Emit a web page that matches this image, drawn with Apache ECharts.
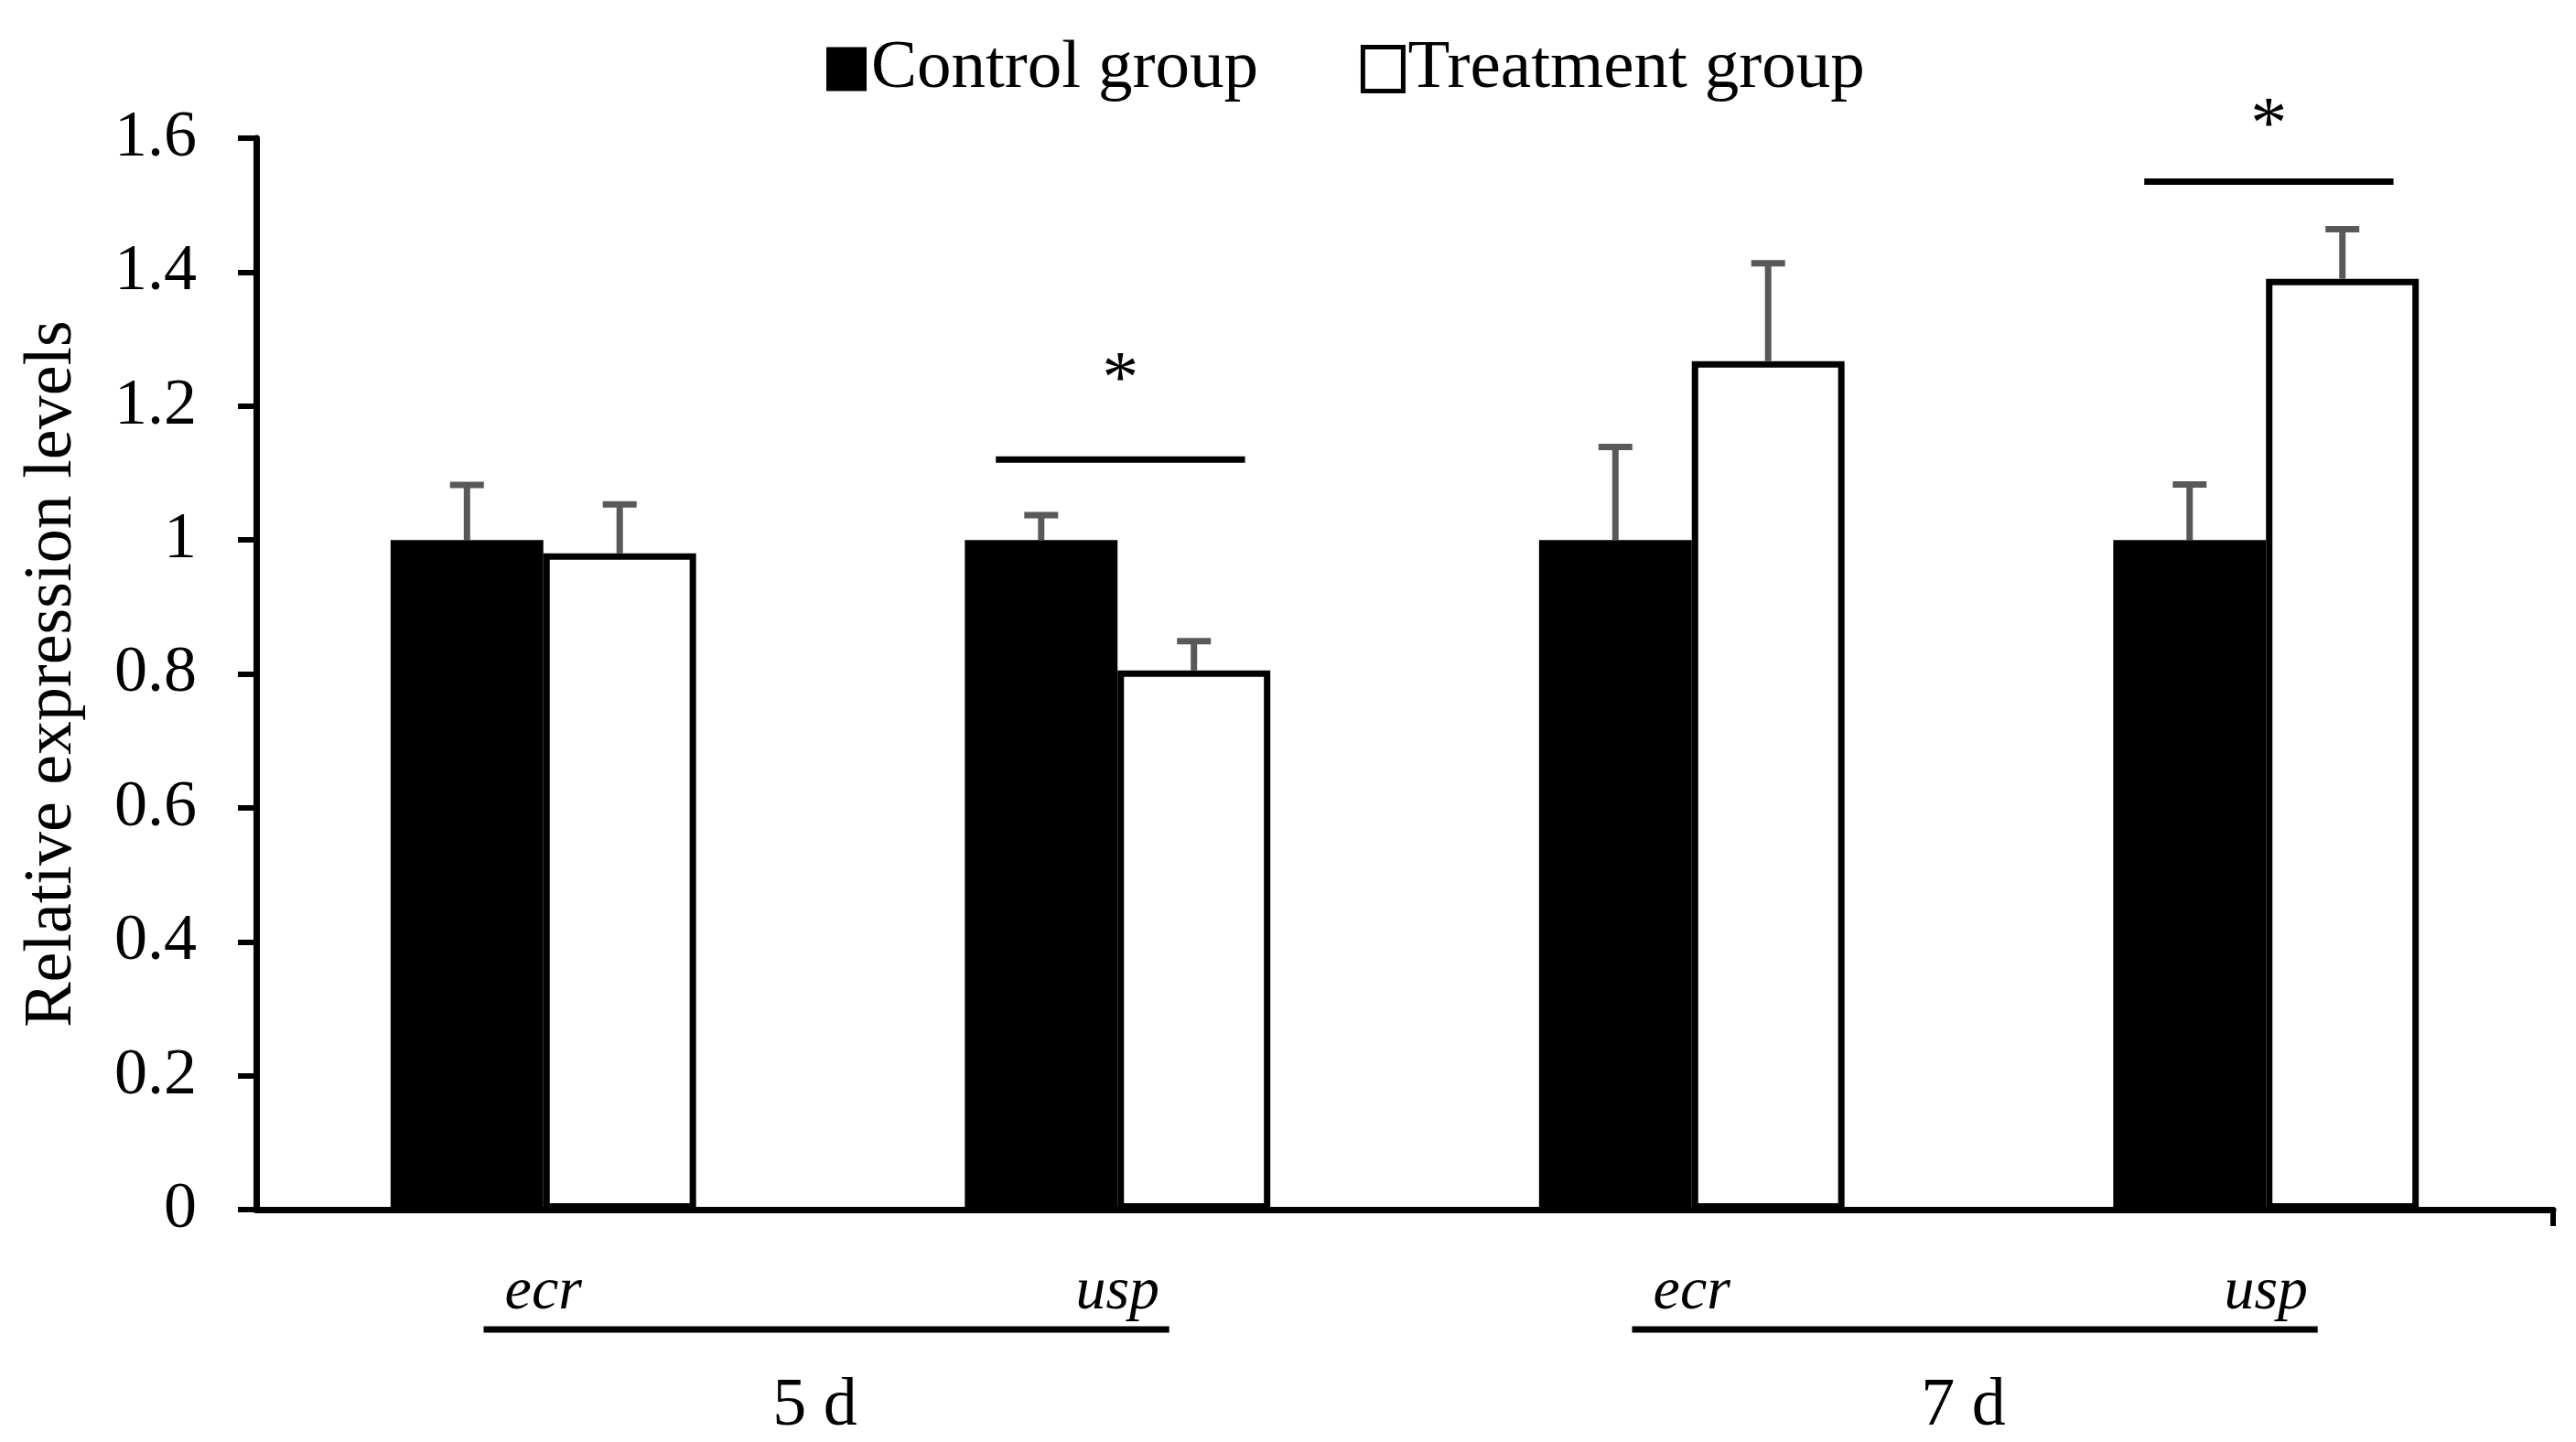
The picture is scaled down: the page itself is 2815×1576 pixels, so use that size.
<!DOCTYPE html>
<html>
<head>
<meta charset="utf-8">
<script src="https://cdn.jsdelivr.net/npm/echarts@6/dist/echarts.min.js"></script>
<style>
  html, body { margin: 0; padding: 0; background: #fff; }
  #chart { width: 2815px; height: 1576px; }
</style>
</head>
<body>
<div id="chart"></div>
<script>
// ---- data ----
const categories = ['ecr', 'usp', 'ecr', 'usp'];
const groups = ['5 d', '7 d'];
const groupStart = [0, 2];
const groupEnd = [1, 3];
const seriesNames = ['Control group', 'Treatment group'];
const controlValues = [1, 1, 1, 1];
const controlErrors = [0.082, 0.037, 0.139, 0.083];
const treatmentValues = [0.98, 0.805, 1.267, 1.39];
const treatmentErrors = [0.073, 0.044, 0.146, 0.074];
const sigCategory = [1, 3];
const sigLineLevel = [1.12, 1.535];
const sigStarLevel = [1.25, 1.63];
const sigMark = ['*', '*'];
const yMin = 0, yMax = 1.6, yStep = 0.2;

// ---- style ----
const FONT = "'Liberation Serif', 'Times New Roman', serif";
const BAR_FRAC = 0.266;
const ERR_COLOR = '#595959';

const chart = echarts.init(document.getElementById('chart'), null, { renderer: 'canvas' });

function errRender(sign) {
  return function (params, api) {
    const i = api.value(0), v = api.value(1), e = api.value(2);
    const band = api.size([1, 0])[0];
    const off = sign * band * BAR_FRAC / 2;
    const base = api.coord([i, v]);
    const top = api.coord([i, v + e]);
    const x = base[0] + off;
    const cap = 18.5;
    const st = { stroke: ERR_COLOR, lineWidth: 7 };
    return {
      type: 'group',
      children: [
        { type: 'line', shape: { x1: x, y1: base[1], x2: x, y2: top[1] }, style: st },
        { type: 'line', shape: { x1: x - cap, y1: top[1], x2: x + cap, y2: top[1] }, style: st }
      ]
    };
  };
}

const controlErrData = controlValues.map((v, i) => [i, v, controlErrors[i]]);
const treatErrData = treatmentValues.map((v, i) => [i, v, treatmentErrors[i]]);
const sigData = sigCategory.map((c, i) => [c, sigLineLevel[i], sigStarLevel[i], i]);
const groupData = groups.map((g, i) => [groupStart[i], 0, groupEnd[i], i]);

const option = {
  backgroundColor: '#fff',
  animation: false,
  textStyle: { fontFamily: FONT, color: '#000' },
  legend: {
    top: 33,
    left: 898,
    itemWidth: 44,
    itemHeight: 48,
    itemGap: 112,
    icon: 'rect',
    textStyle: { fontFamily: FONT, fontSize: 75, color: '#000' },
    data: [
      { name: seriesNames[0], itemStyle: { color: '#000', borderWidth: 0 } },
      { name: seriesNames[1], itemStyle: { color: '#fff', borderColor: '#000', borderWidth: 5 } }
    ]
  },
  grid: { left: 280, right: 25, top: 151, bottom: 254, containLabel: false },
  xAxis: [
    {
      type: 'category',
      data: categories,
      axisLine: { lineStyle: { color: '#000', width: 7 } },
      axisTick: { alignWithLabel: true, length: 18, lineStyle: { color: '#000', width: 6 } },
      axisLabel: { fontFamily: FONT, fontSize: 66, fontStyle: 'italic', color: '#000', margin: 58 },
      splitLine: { show: false }
    },
    {
      type: 'value',
      min: 0, max: 1,
      position: 'bottom',
      axisLine: { show: false },
      axisLabel: { show: false },
      splitLine: { show: false },
      axisTick: { show: true, customValues: [1], length: 18, lineStyle: { color: '#000', width: 6 } }
    }
  ],
  yAxis: {
    type: 'value',
    min: yMin, max: yMax, interval: yStep,
    name: 'Relative expression levels',
    nameLocation: 'middle',
    nameGap: 185,
    nameTextStyle: { fontFamily: FONT, fontSize: 74, color: '#000' },
    axisLine: { show: true, lineStyle: { color: '#000', width: 7 } },
    axisTick: { show: true, length: 20, lineStyle: { color: '#000', width: 6 } },
    axisLabel: { fontFamily: FONT, fontSize: 72, color: '#000', margin: 65 },
    splitLine: { show: false }
  },
  series: [
    {
      name: seriesNames[0], type: 'bar', data: controlValues,
      barWidth: (BAR_FRAC * 100) + '%', barGap: '0%',
      itemStyle: { color: '#000', borderColor: '#000', borderWidth: 0 }
    },
    {
      name: seriesNames[1], type: 'bar', data: treatmentValues,
      barWidth: (BAR_FRAC * 100) + '%', barGap: '0%',
      itemStyle: { color: '#fff', borderColor: '#000', borderWidth: 7 }
    },
    {
      type: 'custom', name: 'errC', data: controlErrData, renderItem: errRender(-1), z: 5,
      encode: { x: 0, y: 1 }, silent: true
    },
    {
      type: 'custom', name: 'errT', data: treatErrData, renderItem: errRender(1), z: 5,
      encode: { x: 0, y: 1 }, silent: true
    },
    {
      type: 'custom', name: 'sig', data: sigData, z: 6, silent: true, clip: false,
      encode: { x: 0, y: 1 },
      renderItem: function (params, api) {
        const c = api.value(0);
        const band = api.size([1, 0])[0];
        const p = api.coord([c, api.value(1)]);
        const s = api.coord([c, api.value(2)]);
        const idx = api.value(3);
        return {
          type: 'group',
          children: [
            { type: 'line', shape: { x1: p[0] - 0.212 * band, y1: p[1], x2: p[0] + 0.222 * band, y2: p[1] },
              style: { stroke: '#000', lineWidth: 7 } },
            { type: 'text', x: s[0] + 3, y: s[1] + 11,
              style: { text: sigMark[idx], font: '80px ' + FONT, fill: '#000', align: 'center', verticalAlign: 'middle' } }
          ]
        };
      }
    },
    {
      type: 'custom', name: 'groups', data: groupData, z: 6, silent: true, clip: false,
      encode: { x: 0, y: 1 },
      renderItem: function (params, api) {
        const band = api.size([1, 0])[0];
        const a = api.coord([api.value(0), 0]);
        const b = api.coord([api.value(2), 0]);
        const idx = api.value(3);
        const x1 = a[0] - 0.104 * band, x2 = b[0] + 0.09 * band;
        return {
          type: 'group',
          children: [
            { type: 'line', shape: { x1: x1, y1: a[1] + 131, x2: x2, y2: a[1] + 131 },
              style: { stroke: '#000', lineWidth: 7 } },
            { type: 'text', x: (x1 + x2) / 2 - 0.02 * band, y: a[1] + 216,
              style: { text: groups[idx], font: '74px ' + FONT, fill: '#000', align: 'center', verticalAlign: 'middle' } }
          ]
        };
      }
    }
  ]
};

chart.setOption(option);
</script>
</body>
</html>
